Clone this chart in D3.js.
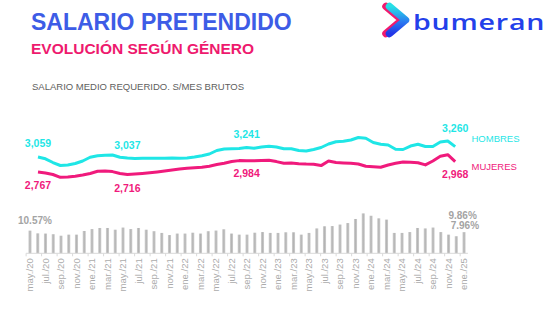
<!DOCTYPE html>
<html><head><meta charset="utf-8">
<script src="https://cdn.jsdelivr.net/npm/d3@7"></script>
<style>
html,body{margin:0;padding:0;background:#fff;}
svg{display:block;font-family:"Liberation Sans",Arial,sans-serif;}
</style></head>
<body><svg id="c" width="559" height="328"></svg>
<script>
const months = ["may./20","jun./20","jul./20","ago./20","sep./20","oct./20","nov./20","dic./20",
"ene./21","feb./21","mar./21","abr./21","may./21","jun./21","jul./21","ago./21","sep./21","oct./21","nov./21","dic./21",
"ene./22","feb./22","mar./22","abr./22","may./22","jun./22","jul./22","ago./22","sep./22","oct./22","nov./22","dic./22",
"ene./23","feb./23","mar./23","abr./23","may./23","jun./23","jul./23","ago./23","sep./23","oct./23","nov./23","dic./23",
"ene./24","feb./24","mar./24","abr./24","may./24","jun./24","jul./24","ago./24","sep./24","oct./24","nov./24","dic./24",
"ene./25"];
const hombres = [3059,3023,2951,2893,2903,2932,2981,3053,3084,3093,3097,3053,3037,3027,3033,3033,3033,3035,3039,3035,
3041,3058,3084,3117,3185,3214,3220,3226,3241,3230,3253,3268,3253,3218,3218,3185,3175,3204,3243,3311,
3356,3366,3389,3438,3422,3340,3307,3292,3208,3204,3272,3307,3263,3263,3350,3370,3260];
const mujeres = [2767,2747,2718,2663,2669,2685,2708,2737,2780,2786,2774,2737,2716,2726,2737,2751,2767,2786,2804,2823,
2839,2850,2858,2879,2911,2938,2971,2988,2984,2986,2992,2996,2969,2936,2940,2928,2920,2916,2891,2981,
2953,2944,2938,2922,2879,2868,2858,2903,2936,2963,2955,2946,2905,2981,3072,3103,2968];
const brecha = [10.57,9.3,9.2,8.9,8.2,8.7,8.7,10.4,11.3,11.8,11.8,11.0,12.0,11.3,11.8,11.0,10.3,9.5,8.5,9.2,
9.2,9.6,9.2,10.3,10.6,11.2,9.2,8.7,8.7,9.6,9.9,9.5,9.5,9.8,9.8,8.7,9.5,11.6,12.6,12.7,
13.4,14.1,16.0,18.6,17.5,16.3,15.7,9.5,9.5,9.9,11.8,11.6,12.0,9.9,8.7,7.96,9.86];
const lineLabelIdx = [0,12,28,56];
const barLabelIdx = [0,55,56];
const seriesNames = ["HOMBRES","MUJERES"];

const CYAN = "#1fe6e6", MAG = "#f01a7c";
const svg = d3.select("#c");

// Header
svg.append("text").attr("x",31).attr("y",29.5).attr("fill","#3d5ce6")
  .attr("font-size",23).attr("font-weight","bold").text("SALARIO PRETENDIDO");
svg.append("text").attr("x",31).attr("y",53.5).attr("fill","#ee1a6e")
  .attr("font-size",15.5).attr("font-weight","bold").text("EVOLUCIÓN SEGÚN GÉNERO");
svg.append("text").attr("x",32).attr("y",90).attr("fill","#5e5e5e")
  .attr("font-size",9.5).text("SALARIO MEDIO REQUERIDO. S/MES BRUTOS");

// Logo
const defs = svg.append("defs");
const g1 = defs.append("linearGradient").attr("id","lg").attr("x1","0").attr("y1","0").attr("x2","0").attr("y2","1");
g1.append("stop").attr("offset","0").attr("stop-color","#26e0e6");
g1.append("stop").attr("offset","0.55").attr("stop-color","#2a7df0");
g1.append("stop").attr("offset","1").attr("stop-color","#2336e8");
svg.append("path").attr("d","M386,6.5 L402,20 L386,33.5").attr("fill","none")
  .attr("stroke","#f01a6e").attr("stroke-width",7.5).attr("stroke-linecap","round").attr("stroke-linejoin","round");
svg.append("path").attr("d","M389.5,6.5 L405.5,20 L389.5,33.5").attr("fill","none")
  .attr("stroke","url(#lg)").attr("stroke-width",7.5).attr("stroke-linecap","round").attr("stroke-linejoin","round");
svg.append("text").attr("transform","translate(413,29.5) scale(1.3,1)").attr("fill","#2340ea")
  .attr("font-family","'Open Sans',sans-serif").attr("font-weight",600)
  .attr("font-size",22).attr("letter-spacing",0.6).text("bumeran");

// Line chart
const xL = d3.scalePoint().domain(d3.range(months.length)).range([38,455.2]);
const yL = d3.scaleLinear().domain([2500,3500]).range([185.7,134.3]);
const line = d3.line().x((d,i)=>xL(i)).y(d=>yL(d)).curve(d3.curveLinear);
svg.append("path").datum(hombres).attr("d",line).attr("fill","none").attr("stroke",CYAN)
  .attr("stroke-width",3).attr("stroke-linejoin","round");
svg.append("path").datum(mujeres).attr("d",line).attr("fill","none").attr("stroke",MAG)
  .attr("stroke-width",3).attr("stroke-linejoin","round");

const fmt = d3.format(",");
const hOff = [-9.5,-9.5,-10,-15];
const mOff = [17,17,16.5,16.7];
lineLabelIdx.forEach((i,k)=>{
  svg.append("text").attr("x",xL(i)).attr("y",yL(hombres[i])+hOff[k]).attr("text-anchor","middle")
    .attr("fill",CYAN).attr("font-size",10.5).attr("font-weight","bold").text(fmt(hombres[i]));
  svg.append("text").attr("x",xL(i)).attr("y",yL(mujeres[i])+mOff[k]).attr("text-anchor","middle")
    .attr("fill",MAG).attr("font-size",10.5).attr("font-weight","bold").text(fmt(mujeres[i]));
});
svg.append("text").attr("x",471.5).attr("y",141.7).attr("fill",CYAN).attr("font-size",9.5).text(seriesNames[0]);
svg.append("text").attr("x",471.5).attr("y",170).attr("fill",MAG).attr("font-size",9.5).text(seriesNames[1]);

// Bars
const xB = d3.scaleBand().domain(d3.range(months.length)).range([26.1,467.9]).paddingInner(0.6).paddingOuter(0.3);
const yB = d3.scaleLinear().domain([0,20]).range([253.3,210.4]);
const bg = defs.append("linearGradient").attr("id","bg").attr("x1","0").attr("x2","1");
bg.append("stop").attr("offset","0").attr("stop-color","#d2d2d2");
bg.append("stop").attr("offset","0.5").attr("stop-color","#b4b4b4");
bg.append("stop").attr("offset","1").attr("stop-color","#cfcfcf");
svg.append("g").selectAll("rect").data(brecha).join("rect")
  .attr("x",(d,i)=>xB(i)).attr("width",xB.bandwidth())
  .attr("y",d=>yB(d)).attr("height",d=>yB(0)-yB(d)).attr("fill","url(#bg)");

barLabelIdx.forEach((i,k)=>{
  const lab = svg.append("text").attr("fill","#a4a4a4").attr("font-size",10).attr("font-weight","bold")
    .text(brecha[i].toFixed(2)+"%");
  if(k===0) lab.attr("x",xB(i)+xB.bandwidth()/2+5).attr("y",yB(brecha[i])-6.5).attr("text-anchor","middle");
  else if(k===1) lab.attr("x",xB(i)-4).attr("y",229).attr("text-anchor","start");
  else lab.attr("x",xB(i)-14).attr("y",219).attr("text-anchor","start");
});

// Axis
const ax = svg.append("g").attr("transform","translate(0,253.3)");
ax.append("line").attr("x1",26.1).attr("x2",467.9).attr("stroke","#d9d9d9").attr("stroke-width",1);
const step = xB.step();
const tickIdx = d3.range(0,months.length,2);
ax.selectAll("line.t").data(tickIdx).join("line").attr("class","t")
  .attr("x1",i=>xB(i)+xB.bandwidth()/2-step/2).attr("x2",i=>xB(i)+xB.bandwidth()/2-step/2)
  .attr("y1",0).attr("y2",3).attr("stroke","#d9d9d9");
ax.selectAll("text").data(tickIdx).join("text")
  .attr("transform",i=>`translate(${xB(i)+xB.bandwidth()/2+3.3},5) rotate(-90)`)
  .attr("text-anchor","end").attr("fill","#ababab").attr("font-size",9.5)
  .text(i=>months[i]);
</script></body></html>
